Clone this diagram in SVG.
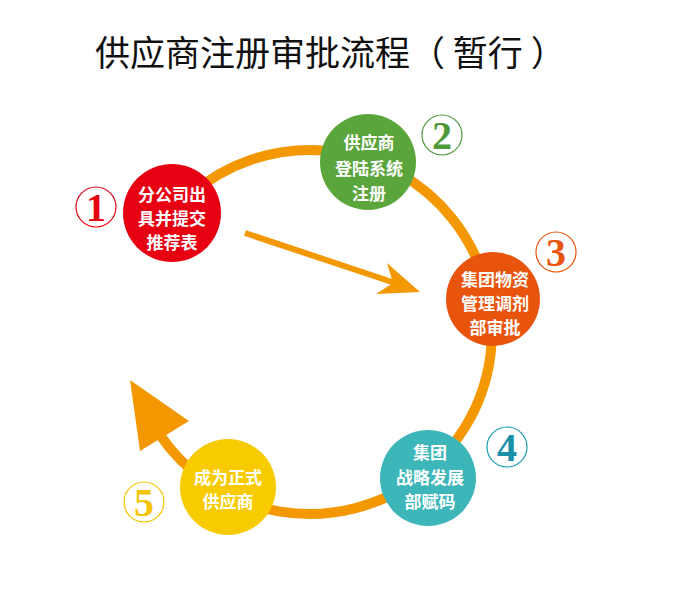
<svg xmlns="http://www.w3.org/2000/svg" width="680" height="600" viewBox="0 0 680 600">
<style>
.title{font-family:"Noto Sans CJK SC","Noto Sans",sans-serif;font-size:35px;fill:#111}
.nt{font-family:"Noto Sans CJK SC","Noto Sans",sans-serif;font-size:17px;font-weight:bold;fill:#fff;text-anchor:middle}
.num{font-family:"Liberation Serif","DejaVu Serif",serif;font-size:40px;font-weight:bold;text-anchor:middle}
.badge{fill:#fff;stroke-width:1.2}
.flow{fill:none;stroke:#F39800}
</style>
<rect width="680" height="600" fill="#fff"/>
<text class="title" x="95" y="66">供应商注册审批流程（ 暂行 ）</text>
<g id="connectors">
<path class="flow" stroke-width="10" d="M190.6,194.6 A182,182 0 1 1 159.1,433.8"/>
<polygon fill="#F39800" points="130,380 140,451 189,421"/>
<line class="flow" stroke-width="6" x1="245" y1="233" x2="395" y2="283"/>
<polygon fill="#F39800" points="420,292 387,263 393,283 376,294"/>
</g>
<g id="node1">
<circle cx="172" cy="213" r="49" fill="#E60012"/>
<text class="nt" x="172" y="201">分公司出</text>
<text class="nt" x="172" y="225">具并提交</text>
<text class="nt" x="172" y="249">推荐表</text>
<circle class="badge" cx="96" cy="207" r="20" stroke="#E60012"/>
<text class="num" x="96" y="221" fill="#E60012">1</text>
</g>
<g id="node2">
<circle cx="368" cy="162" r="48" fill="#5BA53D"/>
<text class="nt" x="369" y="149">供应商</text>
<text class="nt" x="369" y="175">登陆系统</text>
<text class="nt" x="369" y="200">注册</text>
<circle class="badge" cx="442" cy="135" r="20" stroke="#4E9A3A"/>
<text class="num" x="442" y="149" fill="#4E9A3A">2</text>
</g>
<g id="node3">
<circle cx="493" cy="299" r="47" fill="#E8540C"/>
<text class="nt" x="495" y="286">集团物资</text>
<text class="nt" x="495" y="310">管理调剂</text>
<text class="nt" x="495" y="334">部审批</text>
<circle class="badge" cx="556" cy="252" r="20" stroke="#E8540C"/>
<text class="num" x="556" y="266" fill="#E8540C">3</text>
</g>
<g id="node4">
<circle cx="428" cy="478" r="48" fill="#3DB6BA"/>
<text class="nt" x="430" y="459">集团</text>
<text class="nt" x="430" y="484">战略发展</text>
<text class="nt" x="430" y="508">部赋码</text>
<circle class="badge" cx="507" cy="447" r="20" stroke="#1A9BB0"/>
<text class="num" x="507" y="461" fill="#1A8FA8">4</text>
</g>
<g id="node5">
<circle cx="228" cy="487" r="48" fill="#F8CB00"/>
<text class="nt" x="228" y="484">成为正式</text>
<text class="nt" x="228" y="508">供应商</text>
<circle class="badge" cx="144" cy="502" r="20" stroke="#F5C400"/>
<text class="num" x="144" y="516" fill="#F5C400">5</text>
</g>
</svg>
